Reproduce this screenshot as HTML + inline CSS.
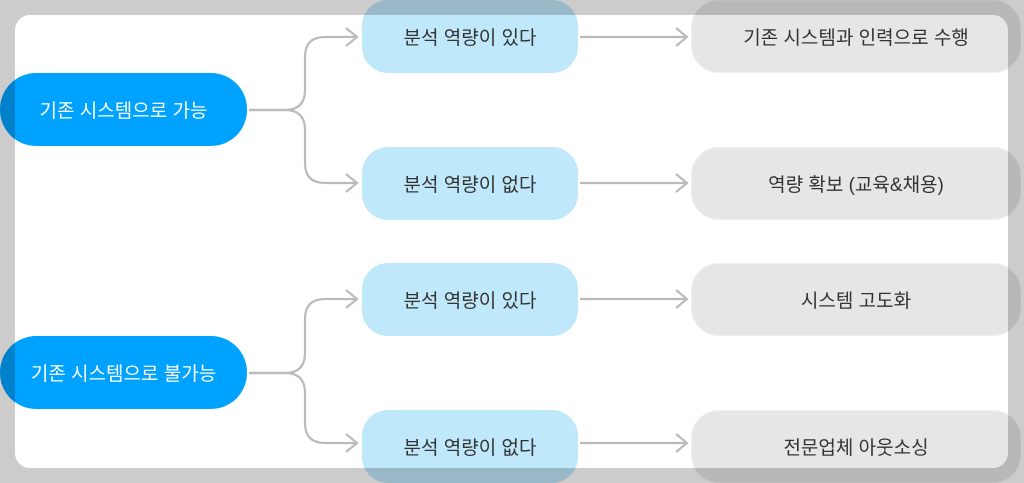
<!DOCTYPE html>
<html><head><meta charset="utf-8"><style>
*{margin:0;padding:0;box-sizing:border-box}
body{width:1024px;height:483px;position:relative;overflow:hidden;background:#fff;font-family:"Liberation Sans","Noto Sans CJK KR",sans-serif}
.n{position:absolute;display:flex;align-items:center;justify-content:center;font-size:19px;color:#333}
.r{background:#00a2ff;color:#fff;border-radius:36px;left:0;width:247px;height:73px}
.b{background:#c0e8fb;border-radius:26px;left:362px;width:216px;height:73px}
.g{background:#e6e6e6;border-radius:28px;left:691px;width:330px;height:73px;border:1px solid #eee}
.ov{position:absolute;left:15px;top:15px;width:993px;height:453px;border-radius:15px;box-shadow:0 0 0 200px rgba(0,0,0,0.2)}
svg{position:absolute;left:0;top:0}
</style></head><body>
<svg width="1024" height="483" fill="none" stroke="#bbb" stroke-width="2.2">
<path d="M249 110 H285 Q305 110 305 90 V57 Q305 37 325 37 H357"/>
<path d="M249 110 H285 Q305 110 305 130 V163 Q305 183 325 183 H357"/>
<path d="M249 373 H285 Q305 373 305 353 V319 Q305 299 325 299 H357"/>
<path d="M249 373 H285 Q305 373 305 393 V423 Q305 443 325 443 H357"/>
<path d="M346 28 L357 37 L346 46 M346 174 L357 183 L346 192 M346 290 L357 299 L346 308 M346 434 L357 443 L346 452"/>
<path d="M580 37 H687 M580 183 H687 M580 299 H687 M580 443 H687"/>
<path d="M676 28 L687 37 L676 46 M676 174 L687 183 L676 192 M676 290 L687 299 L676 308 M676 434 L687 443 L676 452"/>
</svg>
<div class="n r" style="top:73px">기존 시스템으로 가능</div>
<div class="n r" style="top:336px">기존 시스템으로 불가능</div>
<div class="n b" style="top:0">분석 역량이 있다</div>
<div class="n b" style="top:147px">분석 역량이 없다</div>
<div class="n b" style="top:263px">분석 역량이 있다</div>
<div class="n b" style="top:410px">분석 역량이 없다</div>
<div class="n g" style="top:0">기존 시스템과 인력으로 수행</div>
<div class="n g" style="top:147px">역량 확보 (교육&amp;채용)</div>
<div class="n g" style="top:263px">시스템 고도화</div>
<div class="n g" style="top:410px">전문업체 아웃소싱</div>
<div class="ov"></div>
</body></html>
